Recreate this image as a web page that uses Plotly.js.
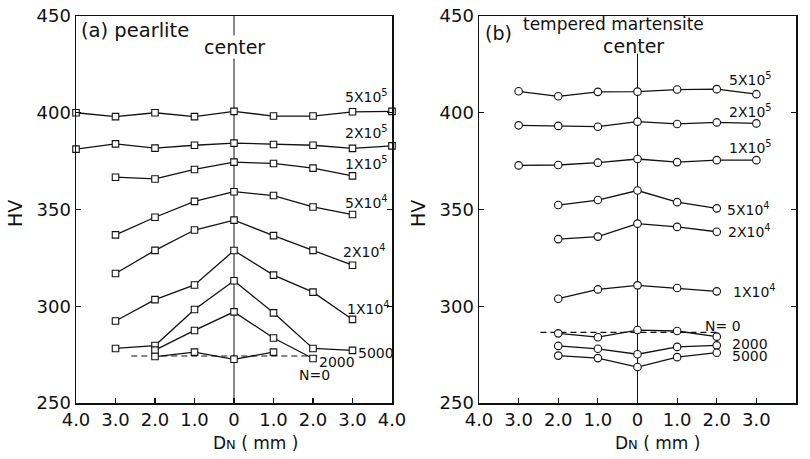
<!DOCTYPE html>
<html><head><meta charset="utf-8">
<script src="https://cdn.plot.ly/plotly-3.0.1.min.js"></script>
<style>body{margin:0;background:#fff}</style>
</head><body><div id="chart" style="width:810px;height:459px"></div>
<script>
const xTickVals = [-4,-3,-2,-1,0,1,2,3,4];
const xTickText = ['4.0','3.0','2.0','1.0','0','1.0','2.0','3.0','4.0'];
const yTickVals = [250,300,350,400,450];

// ---- (a) pearlite ----
const aNames = ['5X10<sup>5</sup>','2X10<sup>5</sup>','1X10<sup>5</sup>','5X10<sup>4</sup>','2X10<sup>4</sup>','1X10<sup>4</sup>','5000','2000','N=0'];
const a5e5x = [-4,-3,-2,-1,0,1,2,3,4];
const a5e5y = [400,398,400,398,400.7,398.3,398.3,400.5,400.7];
const a2e5x = [-4,-3,-2,-1,0,1,2,3,4];
const a2e5y = [381.2,383.9,381.7,383.2,384.3,383.6,383.2,381.6,382.9];
const a1e5x = [-3,-2,-1,0,1,2,3];
const a1e5y = [366.7,365.8,370.7,374.5,373.8,371.4,367.4];
const a5e4x = [-3,-2,-1,0,1,2,3];
const a5e4y = [336.9,346,354.2,359.2,357.2,351.3,347.4];
const a2e4x = [-3,-2,-1,0,1,2,3];
const a2e4y = [316.9,328.9,339.4,344.5,336.5,328.9,321.2];
const a1e4x = [-3,-2,-1,0,1,2,3];
const a1e4y = [292.4,303.4,311,328.8,316.1,307.3,293.2];
const a5000x = [-3,-2,-1,0,1,2,3];
const a5000y = [278.2,279.7,298.3,313.2,296.6,278.2,277.2];
const a2000x = [-2,-1,0,1,2];
const a2000y = [277.3,287.5,297.1,283.6,273.0];
const aN0x = [-2,-1,0,1];
const aN0y = [274,276.3,272.6,276.3];
const aRefX = [-2.6,2.2];
const aRefY = [274.3,274.3];

// ---- (b) tempered martensite ----
const bNames = ['5X10<sup>5</sup>','2X10<sup>5</sup>','1X10<sup>5</sup>','5X10<sup>4</sup>','2X10<sup>4</sup>','1X10<sup>4</sup>','N= 0','2000','5000'];
const b5e5x = [-3,-2,-1,0,1,2,3];
const b5e5y = [411.1,408.5,410.8,410.9,412,412.2,409.6];
const b2e5x = [-3,-2,-1,0,1,2,3];
const b2e5y = [393.5,393.2,392.8,395.4,394.2,395,394.5];
const b1e5x = [-3,-2,-1,0,1,2,3];
const b1e5y = [372.8,373,374.2,376.1,374.5,375.5,375.5];
const b5e4x = [-2,-1,0,1,2];
const b5e4y = [352.3,354.9,359.8,353.8,350.6];
const b2e4x = [-2,-1,0,1,2];
const b2e4y = [334.7,336,342.7,341,338.5];
const b1e4x = [-2,-1,0,1,2];
const b1e4y = [303.9,308.7,310.8,309.4,307.7];
const bN0x = [-2,-1,0,1,2];
const bN0y = [286,284,287.7,287.2,284.3];
const b2000x = [-2,-1,0,1,2];
const b2000y = [279.5,278,275.2,279,279.8];
const b5000x = [-2,-1,0,1,2];
const b5000y = [274.5,273.2,268.6,273.7,276];
const bRefX = [-2.45,2.0];
const bRefY = [286.5,286.5];

const FONT = 'DejaVu Sans, Liberation Sans, Arial, sans-serif';

function series(x, y, ax, sym, size) {
  return {x: x, y: y, xaxis: ax === 1 ? 'x' : 'x2', yaxis: ax === 1 ? 'y' : 'y2',
    type: 'scatter', mode: 'lines+markers', cliponaxis: false, showlegend: false,
    line: {color: '#111', width: 1.3},
    marker: {symbol: sym, size: size, color: '#fff', line: {color: '#111', width: 1.1}}};
}
function ref(x, y, ax) {
  return {x: x, y: y, xaxis: ax === 1 ? 'x' : 'x2', yaxis: ax === 1 ? 'y' : 'y2',
    type: 'scatter', mode: 'lines', showlegend: false,
    line: {color: '#111', width: 1.2, dash: '6px,4px'}};
}

const data = [
  ref(aRefX, aRefY, 1),
  series(a5e5x, a5e5y, 1, 'square', 6.5),
  series(a2e5x, a2e5y, 1, 'square', 6.5),
  series(a1e5x, a1e5y, 1, 'square', 6.5),
  series(a5e4x, a5e4y, 1, 'square', 6.5),
  series(a2e4x, a2e4y, 1, 'square', 6.5),
  series(a1e4x, a1e4y, 1, 'square', 6.5),
  series(a5000x, a5000y, 1, 'square', 6.5),
  series(a2000x, a2000y, 1, 'square', 6.5),
  series(aN0x, aN0y, 1, 'square', 6.5),
  ref(bRefX, bRefY, 2),
  series(b5e5x, b5e5y, 2, 'circle', 7.5),
  series(b2e5x, b2e5y, 2, 'circle', 7.5),
  series(b1e5x, b1e5y, 2, 'circle', 7.5),
  series(b5e4x, b5e4y, 2, 'circle', 7.5),
  series(b2e4x, b2e4y, 2, 'circle', 7.5),
  series(b1e4x, b1e4y, 2, 'circle', 7.5),
  series(bN0x, bN0y, 2, 'circle', 7.5),
  series(b2000x, b2000y, 2, 'circle', 7.5),
  series(b5000x, b5000y, 2, 'circle', 7.5)
];

const aLabelPos = [[3.35,408.5],[3.35,390],[3.35,374],[3.35,354],[3.3,328.5],[3.4,299],[3.6,275.7],[2.6,271.3],[2.05,264.5]];
const bLabelPos = [[2.86,417.4],[2.86,401],[2.86,382.1],[2.8,350.4],[2.83,338.7],[2.95,307.9],[2.15,289.7],[2.83,280.3],[2.83,274.1]];

const annotations = [];
aNames.forEach((n, i) => annotations.push({xref: 'x', yref: 'y', x: aLabelPos[i][0], y: aLabelPos[i][1],
  text: n, showarrow: false, font: {family: FONT, size: 14, color: '#111'}, xanchor: 'center', yanchor: 'middle'}));
bNames.forEach((n, i) => annotations.push({xref: 'x2', yref: 'y2', x: bLabelPos[i][0], y: bLabelPos[i][1],
  text: n, showarrow: false, font: {family: FONT, size: 14, color: '#111'}, xanchor: 'center', yanchor: 'middle'}));

annotations.push(
  {xref: 'x', yref: 'y', x: -3.92, y: 442.3, text: '(a) pearlite', showarrow: false, xanchor: 'left', yanchor: 'middle',
   font: {family: FONT, size: 19.5, color: '#111'}},
  {xref: 'x', yref: 'y', x: 0, y: 434, text: 'center', showarrow: false, xanchor: 'center', yanchor: 'middle',
   bgcolor: '#fff', borderpad: 0, font: {family: FONT, size: 19, color: '#111'}},
  {xref: 'x2', yref: 'y2', x: -3.9, y: 441, text: '(b)', showarrow: false, xanchor: 'left', yanchor: 'middle',
   font: {family: FONT, size: 19, color: '#111'}},
  {xref: 'x2', yref: 'y2', x: -2.95, y: 446, text: 'tempered martensite', showarrow: false, xanchor: 'left', yanchor: 'middle',
   font: {family: FONT, size: 17, color: '#111'}},
  {xref: 'x2', yref: 'y2', x: -0.1, y: 434.5, text: 'center', showarrow: false, xanchor: 'center', yanchor: 'middle',
   font: {family: FONT, size: 19, color: '#111'}},
  {xref: 'paper', yref: 'paper', x: 15/810, y: 1 - 214/459, text: 'HV', textangle: -90, showarrow: false,
   xanchor: 'center', yanchor: 'middle', font: {family: FONT, size: 19, color: '#111'}},
  {xref: 'paper', yref: 'paper', x: 418/810, y: 1 - 214/459, text: 'HV', textangle: -90, showarrow: false,
   xanchor: 'center', yanchor: 'middle', font: {family: FONT, size: 19, color: '#111'}},
  {xref: 'paper', yref: 'paper', x: 255/810, y: 1 - 443/459, text: 'D<span style="font-size:13px">N</span> ( mm )', showarrow: false,
   xanchor: 'center', yanchor: 'middle', font: {family: FONT, size: 17, color: '#111'}},
  {xref: 'paper', yref: 'paper', x: 657/810, y: 1 - 443/459, text: 'D<span style="font-size:13px">N</span> ( mm )', showarrow: false,
   xanchor: 'center', yanchor: 'middle', font: {family: FONT, size: 17, color: '#111'}}
);

function xax(domain) {
  return {domain: domain, range: [-4, 4], tickvals: xTickVals, ticktext: xTickText, ticks: 'inside', ticklen: 5,
    tickwidth: 1.2, tickcolor: '#111', showline: true, linecolor: '#111', linewidth: 1.5, mirror: true,
    showgrid: false, zeroline: false, tickfont: {family: FONT, size: 18, color: '#111'}, fixedrange: true};
}
function yax(anchor) {
  return {domain: [56/459, 443/459], range: [250, 450], tickvals: yTickVals, ticks: 'inside', ticklen: 5,
    tickwidth: 1.2, tickcolor: '#111', showline: true, linecolor: '#111', linewidth: 1.5, mirror: 'ticks',
    showgrid: false, zeroline: false, anchor: anchor, tickfont: {family: FONT, size: 18, color: '#111'}, fixedrange: true};
}

const layout = {
  width: 810, height: 459, margin: {l: 0, r: 0, t: 0, b: 0},
  paper_bgcolor: '#fff', plot_bgcolor: '#fff', showlegend: false,
  xaxis: Object.assign(xax([76/810, 392/810]), {anchor: 'y'}),
  yaxis: yax('x'),
  xaxis2: Object.assign(xax([479/810, 796/810]), {anchor: 'y2'}),
  yaxis2: yax('x2'),
  shapes: [
    {type: 'line', xref: 'x', yref: 'y', x0: 0, x1: 0, y0: 250, y1: 450, line: {color: '#111', width: 1}, layer: 'below'},
    {type: 'line', xref: 'x2', yref: 'y2', x0: 0, x1: 0, y0: 250, y1: 430.5, line: {color: '#111', width: 1}, layer: 'below'}
  ],
  annotations: annotations
};

Plotly.newPlot('chart', data, layout, {displayModeBar: false, staticPlot: true});
</script>
</body></html>
